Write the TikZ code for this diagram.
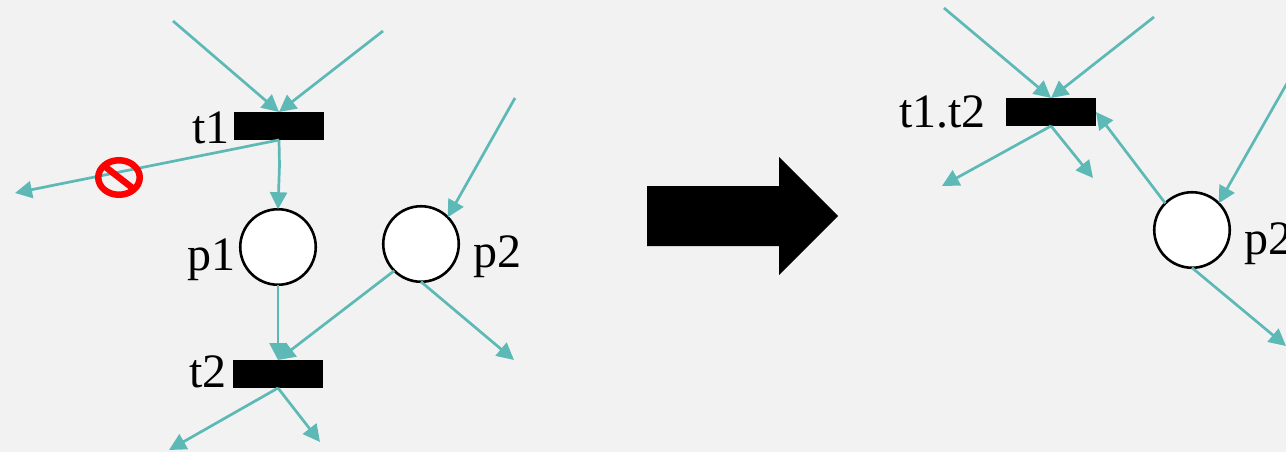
\documentclass[tikz,border=0pt]{standalone}
\usepackage{fontspec}
\setmainfont{Liberation Serif}
\usetikzlibrary{arrows.meta,shapes.geometric}
\definecolor{bgc}{HTML}{F2F2F2}
\definecolor{tealc}{HTML}{5DB9B5}
\tikzset{
  x=1pt,y=-1pt,
  bar/.style={fill=black,draw=none,minimum width=90pt,minimum height=28pt,inner sep=0pt,outer sep=0pt},
  place/.style={circle,draw=black,fill=white,line width=2.6pt,minimum size=75.5pt,inner sep=0pt,outer sep=0pt},
  lab/.style={anchor=base west,inner sep=0pt,outer sep=0pt,font=\fontsize{48}{48}\selectfont},
  conn/.style={draw=tealc,line width=2.7pt,-{Triangle[length=17pt,width=17pt]}},
}
\begin{document}
\begin{tikzpicture}
\useasboundingbox (0,0) rectangle (1286,452);
\fill[bgc] (0,0) rectangle (1286,452);
% free ends
\coordinate (a1) at (173,21);
\coordinate (a2) at (383,31);
\coordinate (a3) at (15,193);
\coordinate (bend) at (279.5,165);
\coordinate (a4) at (515,98);
\coordinate (a5) at (514,360);
\coordinate (a6) at (169,450);
\coordinate (a7) at (320,442);
\coordinate (b1) at (944,8);
\coordinate (b2) at (1154,17);
\coordinate (b3) at (942,186);
\coordinate (b4) at (1093,178);
\coordinate (b5) at (1290,78);
\coordinate (b6) at (1286,346);
% bars and places
\node[bar] (t1) at (279,126) {};
\node[bar] (t2) at (278,374) {};
\node[bar] (t12) at (1051,112) {};
\node[place] (p1) at (278,247) {};
\node[place] (p2) at (421,244) {};
\node[place] (p2r) at (1192,230) {};
% labels
\node[lab] (lt1) at (192,143) {t1};
\node[lab] (lt2) at (189,387) {t2};
\node[lab] (lp1) at (187.5,270) {p1};
\node[lab] (lp2) at (473,267) {p2};
\node[lab] (lt12) at (899,128) {t1.t2};
\node[lab] (lp2r) at (1244,254) {p2};
% connectors, left net
\draw[conn] (a1) -- (t1.north);
\draw[conn] (a2) -- (t1.north);
\draw[conn] (t1.south) -- (a3);
\draw[conn] (t1.south) -- (bend) -- (p1.north);
\draw[conn] (a4) -- (p2.45);
\draw[conn] (p1.south) -- (t2.north);
\draw[conn] (p2.225) -- (t2.north);
\draw[conn] (p2.south) -- (a5);
\draw[conn] (t2.south) -- (a6);
\draw[conn] (t2.south) -- (a7);
% connectors, right net
\draw[conn] (b1) -- (t12.north);
\draw[conn] (b2) -- (t12.north);
\draw[conn] (t12.south) -- (b3);
\draw[conn] (t12.south) -- (b4);
\draw[conn] (p2r.135) -- (t12.east);
\draw[conn] (b5) -- (p2r.45);
\draw[conn] (p2r.south) -- (b6);
% prohibition sign
\node[ellipse,draw=red,line width=6.5pt,minimum width=41.5pt,minimum height=34.5pt,inner sep=0pt,outer sep=0pt] (no) at (119,177.5) {};
\draw[red,line width=6.5pt] (no.142) -- (no.-38);
% big arrow
\fill[black] (647,186) -- (779,186) -- (779,157) -- (838,216) -- (779,275) -- (779,246) -- (647,246) -- cycle;
\end{tikzpicture}
\end{document}
